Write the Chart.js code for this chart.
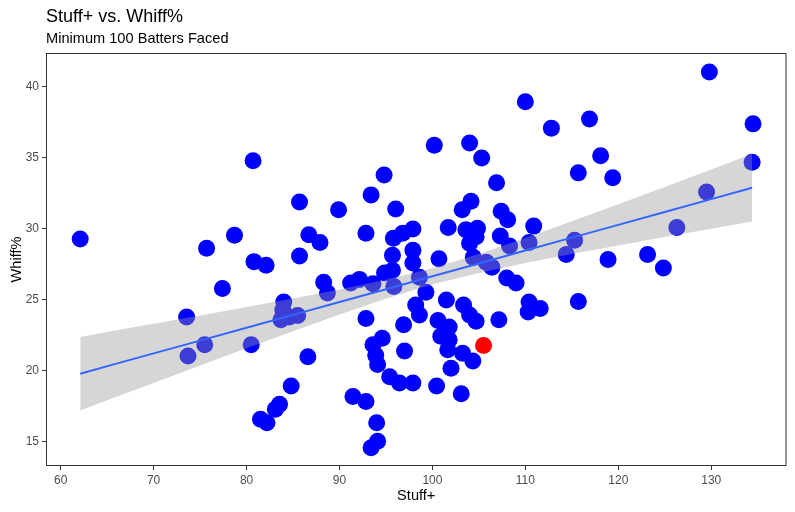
<!DOCTYPE html>
<html>
<head>
<meta charset="utf-8">
<script src="https://cdn.jsdelivr.net/npm/chart.js@4.4.1/dist/chart.umd.min.js"></script>
<style>
  body { margin: 0; background: #fff; }
  #wrap { position: relative; width: 795px; height: 512px; font-family: "Liberation Sans", Arial, sans-serif; }
  #title { position: absolute; left: 46px; top: 6px; font-size: 18px; line-height: 20px; color: #000; white-space: nowrap; }
  #subtitle { position: absolute; left: 46px; top: 30px; font-size: 14.6px; line-height: 17px; color: #000; white-space: nowrap; }
</style>
</head>
<body>
<div id="wrap">
  <canvas id="whiff" width="795" height="512"></canvas>
  <div id="title">Stuff+ vs. Whiff%</div>
  <div id="subtitle">Minimum 100 Batters Faced</div>
</div>
<script>
// pitchers
const stuffPlus = [
  62.1, 73.55, 73.7, 75.5, 75.7, 77.4, 78.7, 80.7, 80.8, 82.1,
  80.5, 81.5, 82.2, 83.1, 83.55, 84.8, 84.0, 83.9, 83.7, 84.6,
  85.5, 85.7, 85.7, 86.7, 87.9, 86.6, 88.3, 88.7, 89.9, 91.2,
  92.15, 92.85, 93.4, 94.8, 93.6, 94.85, 95.7, 95.85, 96.05, 95.8,
  96.8, 97.9, 95.7, 97.9, 97.9, 98.6, 99.3, 100.7, 100.2, 101.7,
  103.2, 104.15, 104.0, 105.3, 106.9, 103.6, 104.85, 104.0, 104.7, 104.4,
  105.8, 106.4, 107.4, 108.1, 107.3, 108.3, 110.4, 110.9, 108.0, 109.0,
  110.0, 112.8, 116.9, 118.1, 115.7, 119.4, 129.8, 134.5, 134.4, 129.5,
  126.3, 115.3, 114.4, 118.9, 123.15, 124.85, 110.4, 111.6, 110.3, 115.7,
  107.15, 101.5, 103.35, 104.0, 104.7, 98.2, 98.6, 92.85, 96.9, 100.6,
  101.8, 100.9, 101.8, 101.65, 103.25, 104.35, 102.0, 103.1, 100.45, 97.0,
  94.6, 93.6, 93.9, 94.1, 95.4, 96.45, 97.9, 91.45, 92.85, 94.0,
  94.1, 93.4
]
const whiffPct = [
  29.3, 23.8, 21.05, 21.85, 28.65, 25.8, 29.55, 34.8, 27.7, 27.45,
  21.85, 16.6, 16.35, 17.3, 17.65, 18.95, 24.85, 24.3, 23.6, 23.8,
  23.9, 31.9, 28.1, 29.6, 29.05, 21.0, 26.25, 25.5, 31.35, 26.2,
  26.45, 29.7, 32.4, 33.8, 26.15, 26.9, 27.1, 25.95, 31.4, 29.35,
  29.7, 30.0, 28.15, 28.5, 27.6, 26.6, 25.55, 27.9, 35.9, 30.1,
  31.35, 31.95, 36.05, 35.0, 33.25, 29.95, 30.05, 29.0, 29.45, 28.0,
  27.65, 27.3, 31.25, 30.65, 29.5, 28.8, 29.05, 30.2, 26.55, 26.2,
  38.95, 37.1, 37.75, 35.15, 33.95, 33.6, 41.05, 37.4, 34.7, 32.6,
  30.1, 29.2, 28.2, 27.85, 28.2, 27.25, 24.85, 24.4, 24.15, 24.9,
  23.6, 25.0, 24.65, 23.95, 23.5, 24.65, 23.95, 23.7, 23.25, 23.55,
  23.1, 22.45, 22.2, 21.5, 21.25, 20.7, 20.2, 18.4, 18.95, 21.4,
  22.3, 21.85, 21.1, 20.45, 19.6, 19.15, 19.15, 18.2, 17.85, 16.35,
  15.05, 14.6
]

// highlighted pitcher
const highlightStuff = [105.5]
const highlightWhiff = [21.8]

// lm fit and its 95% band, read at a few x positions
const fitX = [62.1, 66, 70, 75, 80, 85, 90, 95, 100, 105, 110, 115, 120, 125, 130, 134.4]
const fitY = [19.81, 20.52, 21.24, 22.14, 23.05, 23.95, 24.86, 25.76, 26.67, 27.57, 28.48, 29.39, 30.29, 31.2, 32.1, 32.9]
const bandUpper = [22.4, 22.86, 23.32, 23.9, 24.5, 25.1, 25.74, 26.43, 27.24, 28.24, 29.36, 30.54, 31.74, 32.96, 34.18, 35.27]
const bandLower = [17.22, 18.18, 19.16, 20.38, 21.6, 22.8, 23.98, 25.09, 26.1, 26.9, 27.6, 28.24, 28.84, 29.44, 30.02, 30.53]

const xTicks = [60, 70, 80, 90, 100, 110, 120, 130]
const yTicks = [15, 20, 25, 30, 35, 40]

const pts = (xs, ys) => xs.map((x, i) => ({ x, y: ys[i] }))

const panelBorder = {
  id: 'panelBorder',
  afterDraw(chart) {
    const { ctx, chartArea: a } = chart
    ctx.save()
    ctx.strokeStyle = '#333333'
    ctx.lineWidth = 1
    ctx.strokeRect(a.left + 0.5, a.top + 0.5, a.right - a.left - 1, a.bottom - a.top - 1)
    ctx.restore()
  },
}

const tickFont = { family: '"Liberation Sans", Arial, sans-serif', size: 12 }
const titleFont = { family: '"Liberation Sans", Arial, sans-serif', size: 14.6 }

new Chart(document.querySelector('#whiff'), {
  type: 'scatter',
  data: {
    datasets: [
      {
        type: 'line', data: pts(fitX, fitY), borderColor: '#3366FF', borderWidth: 2,
        pointRadius: 0, fill: false, tension: 0,
      },
      {
        type: 'line', data: pts(fitX, bandUpper), borderWidth: 0, borderColor: 'rgba(0,0,0,0)',
        backgroundColor: 'rgba(153,153,153,0.4)', pointRadius: 0, fill: '+1', tension: 0,
      },
      {
        type: 'line', data: pts(fitX, bandLower), borderWidth: 0, borderColor: 'rgba(0,0,0,0)',
        pointRadius: 0, fill: false, tension: 0,
      },
      {
        data: pts(highlightStuff, highlightWhiff), backgroundColor: '#FF0000',
        borderWidth: 0, pointRadius: 8.5,
      },
      {
        data: pts(stuffPlus, whiffPct), backgroundColor: '#0000FF',
        borderWidth: 0, pointRadius: 8.5,
      },
    ],
  },
  options: {
    responsive: false,
    devicePixelRatio: 1,
    animation: false,
    events: [],
    layout: { padding: { top: 53, right: 8, left: 0, bottom: 0 } },
    plugins: {
      legend: { display: false },
      tooltip: { enabled: false },
    },
    scales: {
      x: {
        type: 'linear',
        min: 58.42,
        max: 138.1,
        afterBuildTicks: scale => { scale.ticks = xTicks.map(value => ({ value })) },
        afterFit: scale => { scale.height = 46 },
        grid: { drawOnChartArea: false, drawTicks: true, tickLength: 4, color: '#333333' },
        border: { display: false },
        ticks: { color: '#4D4D4D', font: tickFont, padding: 3, maxRotation: 0 },
        title: { display: true, text: 'Stuff+', color: '#000', font: titleFont, padding: { top: 0, bottom: 7 } },
      },
      y: {
        type: 'linear',
        min: 13.31,
        max: 42.39,
        afterBuildTicks: scale => { scale.ticks = yTicks.map(value => ({ value })) },
        afterFit: scale => { scale.width = 46 },
        grid: { drawOnChartArea: false, drawTicks: true, tickLength: 4, color: '#333333' },
        border: { display: false },
        ticks: { color: '#4D4D4D', font: tickFont, padding: 3 },
        title: { display: true, text: 'Whiff%', color: '#000', font: titleFont, padding: { top: 8, bottom: 0 } },
      },
    },
  },
  plugins: [panelBorder],
})
</script>
</body>
</html>
